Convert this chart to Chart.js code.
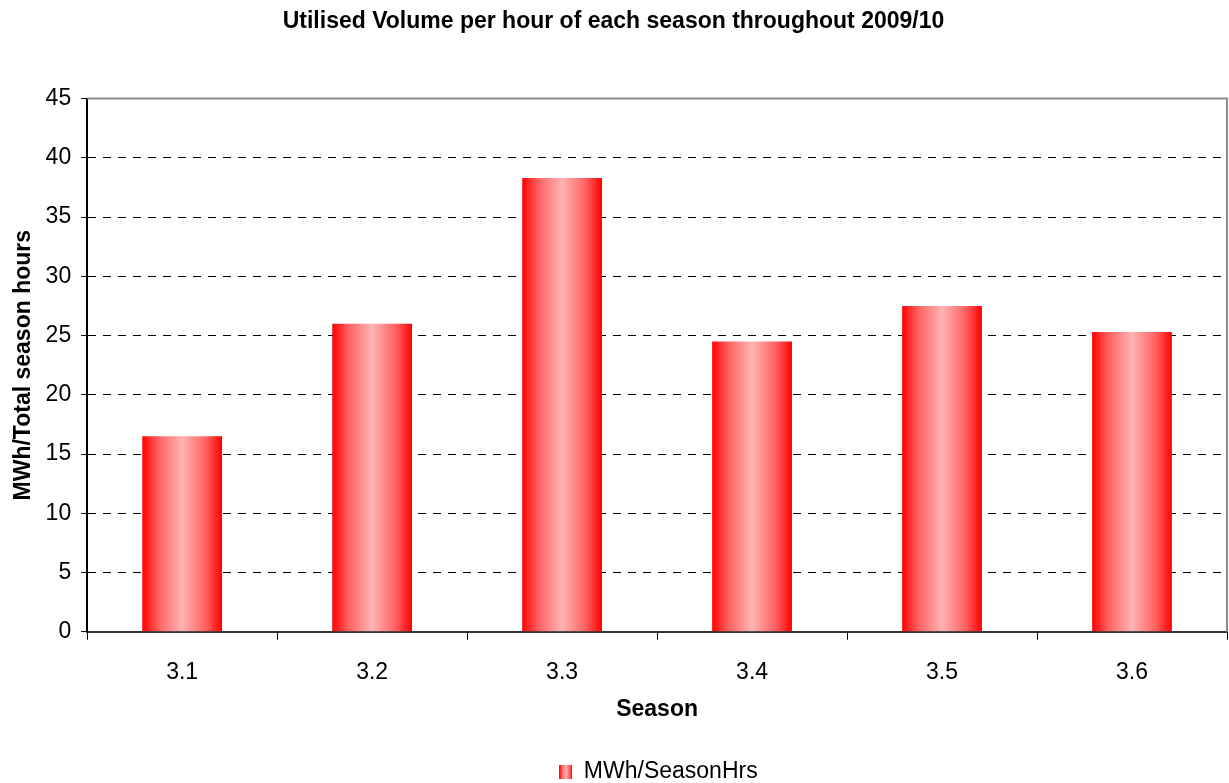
<!DOCTYPE html>
<html>
<head>
<meta charset="utf-8">
<script src="https://cdn.jsdelivr.net/npm/chart.js@4.4.1/dist/chart.umd.min.js"></script>
<style>
  html, body { margin: 0; padding: 0; background: #fff; }
  #wrap { width: 1229px; height: 783px; }
</style>
</head>
<body>
<div id="wrap"><canvas id="chart"></canvas></div>
<script>
// values
const seasons = ['3.1', '3.2', '3.3', '3.4', '3.5', '3.6'];
const mwhPerSeasonHrs = [16.5, 26.0, 38.3, 24.5, 27.5, 25.3];
const yTicks = [0, 5, 10, 15, 20, 25, 30, 35, 40, 45];

const FONT = "'Liberation Sans', Arial, sans-serif";
const FS = 23;

function barGradient(ctx, x0, x1){
    var g = ctx.createLinearGradient(x0, 0, x1, 0);
    g.addColorStop(0, '#ff0000');
    g.addColorStop(0.2, '#ff6060');
    g.addColorStop(0.5, '#ffb4b4');
    g.addColorStop(0.8, '#ff6060');
    g.addColorStop(1, '#ff0000');
    return g;
}

// small swatch for the legend
var swatch = document.createElement('canvas');
swatch.width = 13; swatch.height = 14;
var sctx = swatch.getContext('2d');
sctx.fillStyle = barGradient(sctx, 0, 13);
sctx.fillRect(0, 0, 13, 14);

// each bar gets its own horizontal gradient
const gradientBars = {
    id: 'gradientBars',
    beforeDatasetsDraw(chart){
        var ctx = chart.ctx;
        chart.getDatasetMeta(0).data.forEach(function(el){
            var half = el.width / 2;
            el.options = Object.assign({}, el.options, {
                backgroundColor: barGradient(ctx, el.x - half, el.x + half)
            });
        });
    }
};

// legend sits a bit right of centre in the original
const legendShift = {
    id: 'legendShift',
    afterLayout(chart){
        chart.legend.left += 45;
        chart.legend.right += 45;
    }
};

// grey top and right edge of the plot area
const frame = {
    id: 'frame',
    afterDraw(chart){
        var a = chart.chartArea, ctx = chart.ctx;
        ctx.save();
        ctx.strokeStyle = '#8c8c8c';
        ctx.lineWidth = 2;
        ctx.beginPath();
        ctx.moveTo(a.left, a.top);
        ctx.lineTo(a.right, a.top);
        ctx.lineTo(a.right, a.bottom);
        ctx.stroke();
        ctx.restore();
    }
};

new Chart(document.getElementById('chart'), {
    type: 'bar',
    data: {
        labels: seasons,
        datasets: [{
            label: 'MWh/SeasonHrs',
            data: mwhPerSeasonHrs,
            backgroundColor: function(){ return '#ff0000'; },
            borderWidth: 0,
            barPercentage: 0.42,
            categoryPercentage: 1
        }]
    },
    options: {
        responsive: true,
        maintainAspectRatio: false,
        animation: false,
        layout: { padding: { left: 0, right: 2, top: 0, bottom: -10 } },
        plugins: {
            title: {
                display: true,
                text: 'Utilised Volume per hour of each season throughout 2009/10',
                color: '#000',
                font: { family: FONT, size: FS, weight: 'bold' },
                padding: { top: 8, bottom: 63 }
            },
            legend: {
                position: 'bottom',
                labels: {
                    color: '#000',
                    font: { family: FONT, size: FS },
                    usePointStyle: true,
                    pointStyleWidth: 13,
                    padding: 0,
                    generateLabels: function(chart){
                        return [{
                            text: chart.data.datasets[0].label,
                            pointStyle: swatch,
                            fillStyle: '#ff0000',
                            strokeStyle: 'transparent',
                            lineWidth: 0,
                            datasetIndex: 0
                        }];
                    }
                }
            },
            tooltip: { enabled: false }
        },
        scales: {
            x: {
                grid: {
                    offset: true,
                    drawOnChartArea: false,
                    tickLength: 8,
                    tickColor: '#000'
                },
                border: { color: '#333', width: 2 },
                ticks: {
                    color: '#000',
                    padding: 19,
                    font: { family: FONT, size: FS }
                },
                title: {
                    display: true,
                    text: 'Season',
                    color: '#000',
                    font: { family: FONT, size: FS, weight: 'bold' },
                    padding: { top: -10, bottom: 37 }
                }
            },
            y: {
                min: 0,
                max: 45,
                afterBuildTicks: function(axis){
                    axis.ticks = yTicks.map(function(v){ return { value: v }; });
                },
                grid: {
                    color: '#000',
                    lineWidth: 1,
                    tickLength: 6,
                    tickColor: '#000'
                },
                border: { color: '#000', width: 2, dash: [8, 7] },
                ticks: {
                    color: '#000',
                    padding: 10,
                    font: { family: FONT, size: FS }
                },
                title: {
                    display: true,
                    text: 'MWh/Total season hours',
                    color: '#000',
                    font: { family: FONT, size: FS, weight: 'bold' },
                    padding: { top: 10, bottom: -2 }
                }
            }
        }
    },
    plugins: [gradientBars, legendShift, frame]
});
</script>
</body>
</html>
